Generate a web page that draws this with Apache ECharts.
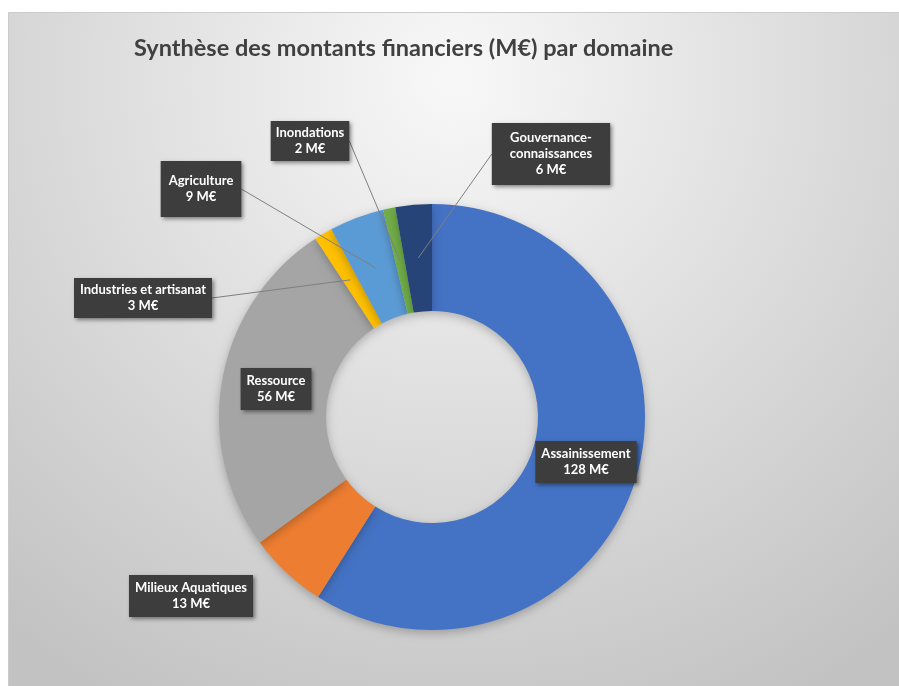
<!DOCTYPE html>
<html>
<head>
<meta charset="utf-8">
<script src="https://cdn.jsdelivr.net/npm/echarts@6/dist/echarts.min.js"></script>
<style>
html, body { margin: 0; padding: 0; background: #fff; }
#chart { width: 899px; height: 686px; }
</style>
</head>
<body>
<div id="chart"></div>
<script>
// données
var domaines = ['Assainissement', 'Milieux Aquatiques', 'Ressource', 'Industries et artisanat', 'Agriculture', 'Inondations', 'Gouvernance-connaissances'];
var montants = [128, 13, 56, 3, 9, 2, 6];
var couleurs = ['#4472C4', '#ED7D31', '#A5A5A5', '#FFC000', '#5B9BD5', '#70AD47', '#264478'];

// centre des étiquettes (px) et traits de rappel
var labelPos = [[586, 462], [191, 596], [276, 389], [143, 298], [201, 189], [310, 141], [551, 154]];
var avecTrait = [false, false, false, true, true, true, true];
var labelPadding = [[5, 6], [5, 6], [5, 6], [4, 6], [12, 8], [4, 5], [7, 18]];

var cx = 432, cy = 417, rIn = 106, rOut = 213;
var total = montants.reduce(function (a, b) { return a + b; }, 0);

// point au milieu de la part, à mi-épaisseur de l'anneau
function ancre(i) {
    var avant = 0;
    for (var k = 0; k < i; k++) avant += montants[k];
    var a = (avant + montants[i] / 2) / total * 2 * Math.PI;
    var r = (rIn + rOut) / 2;
    return [cx + r * Math.sin(a), cy - r * Math.cos(a)];
}

var chart = echarts.init(document.getElementById('chart'));

// anneau coloré
var parts = domaines.map(function (n, i) {
    return { name: n, value: montants[i], itemStyle: { color: couleurs[i] } };
});

// même anneau, transparent, au-dessus : porte les étiquettes et les traits
var etiquettes = domaines.map(function (n, i) {
    return {
        name: n,
        value: montants[i],
        label: { padding: labelPadding[i] },
        labelLine: { show: avecTrait[i] }
    };
});

chart.setOption({
    backgroundColor: '#ffffff',
    animation: false,
    title: {
        text: 'Synthèse des montants financiers (M€) par domaine',
        left: 129,
        top: 31,
        textStyle: {
            fontFamily: 'Lato',
            fontSize: 23.5,
            fontWeight: 'bold',
            color: '#404040'
        }
    },
    graphic: [{
        type: 'rect',
        left: 8,
        top: 12,
        z: -10,
        silent: true,
        shape: { width: 891, height: 674 },
        style: {
            fill: new echarts.graphic.RadialGradient(0.5, 0.1, 1.05, [
                { offset: 0, color: '#f8f8f8' },
                { offset: 1, color: '#c2c2c2' }
            ]),
            stroke: '#cccccc',
            lineWidth: 1
        }
    }],
    series: [{
        type: 'pie',
        z: 2,
        silent: true,
        center: [cx, cy],
        radius: [rIn, rOut],
        startAngle: 90,
        clockwise: true,
        itemStyle: {
            shadowBlur: 10,
            shadowColor: 'rgba(0,0,0,0.25)',
            shadowOffsetY: 3
        },
        label: { show: false },
        labelLine: { show: false },
        data: parts
    }, {
        type: 'pie',
        z: 5,
        silent: true,
        center: [cx, cy],
        radius: [rIn, rOut],
        startAngle: 90,
        clockwise: true,
        avoidLabelOverlap: false,
        itemStyle: { color: 'rgba(0,0,0,0)' },
        label: {
            show: true,
            position: 'outside',
            formatter: function (p) {
                return p.name.replace('-', '-\n') + '\n' + p.value + ' M€';
            },
            fontFamily: 'Lato',
            fontSize: 13,
            fontWeight: 'bold',
            lineHeight: 16,
            color: '#ffffff',
            backgroundColor: '#3d3d3d',
            align: 'center',
            shadowBlur: 4,
            shadowColor: 'rgba(0,0,0,0.45)',
            shadowOffsetX: 2,
            shadowOffsetY: 2
        },
        labelLine: {
            lineStyle: { color: '#7f7f7f', width: 1 }
        },
        labelLayout: function (p) {
            var i = p.dataIndex, pos = labelPos[i];
            var res = { x: pos[0], y: pos[1], align: 'center', verticalAlign: 'middle' };
            if (avecTrait[i]) {
                var w = p.labelRect.width / 2;
                var a = ancre(i);
                var bordX = a[0] > pos[0] ? pos[0] + w : pos[0] - w;
                res.labelLinePoints = [a, [bordX, pos[1]], [bordX, pos[1]]];
            }
            return res;
        },
        data: etiquettes
    }]
});
</script>
</body>
</html>
